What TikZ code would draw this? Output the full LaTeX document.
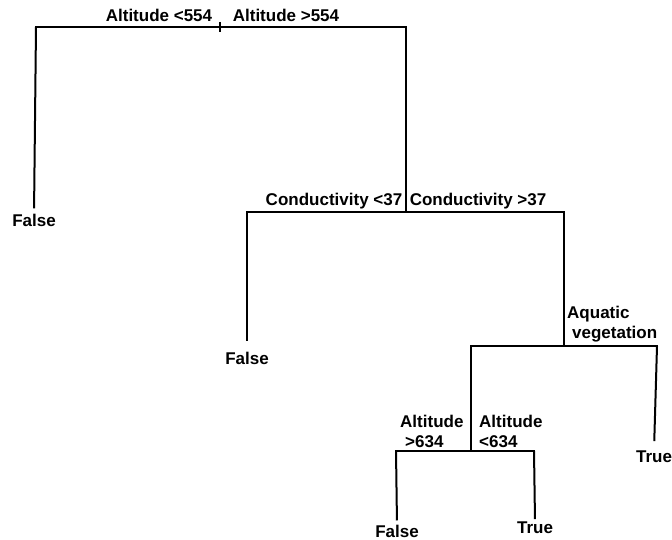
\documentclass[tikz,border=0pt]{standalone}
\usepackage{fontspec}
\setmainfont{Liberation Sans}
\begin{document}
\begin{tikzpicture}[x=1bp,y=-1bp,
  lbl/.style={font=\fontsize{17bp}{19bp}\selectfont\bfseries, inner sep=0pt, anchor=base},
  lblw/.style={lbl, anchor=base west},
  leaf/.style={lbl},
  edge/.style={draw, line width=2bp, line cap=rect}]
\useasboundingbox (0,0) rectangle (672,540);
% split coordinates
\coordinate (root) at (220,27);
\coordinate (rootT) at (220,22);
\coordinate (rootB) at (220,32);
\coordinate (rootL) at (36,27);
\coordinate (rootR) at (406,27);
\coordinate (c) at (406,212);
\coordinate (cL) at (247,212);
\coordinate (cR) at (564,212);
\coordinate (a) at (564,346);
\coordinate (aL) at (471,346);
\coordinate (aR) at (657,346);
\coordinate (b) at (471,451);
\coordinate (bL) at (396,451);
\coordinate (bR) at (534,451);
% labels
\node[lbl] (l1) at (159,22) {Altitude <554};
\node[lbl] (l2) at (286,22) {Altitude >554};
\node[lbl] (l3) at (334,206) {Conductivity <37};
\node[lbl] (l4) at (478,206) {Conductivity >37};
\node[lblw] (l5) at (567,318) {Aquatic};
\node[lblw] (l6) at (572,338) {vegetation};
\node[lblw] (l7) at (400,427) {Altitude};
\node[lblw] (l8) at (405,447) {>634};
\node[lblw] (l9) at (479,427) {Altitude};
\node[lblw] (l10) at (479,447) {<634};
% leaves
\node[leaf] (f1) at (34,227) {False};
\node[leaf] (f2) at (247,364) {False};
\node[leaf] (f3) at (397,537) {False};
\node[leaf] (t1) at (535,533) {True};
\node[leaf] (t2) at (654,462) {True};
% tree lines
\draw[edge] (rootL) -- (rootR);
\draw[edge, line cap=butt] (rootT) -- (rootB);
\draw[edge] (rootR) -- (c);
\draw[edge] (cL) -- (cR);
\draw[edge] (cR) -- (a);
\draw[edge] (aL) -- (aR);
\draw[edge] (aL) -- (b);
\draw[edge] (bL) -- (bR);
\draw[edge, line cap=butt, shorten >=6bp] (rootL) -- (f1.north);
\draw[edge, line cap=butt, shorten >=10bp] (cL) -- (f2.north);
\draw[edge, line cap=butt, shorten >=4bp] (bL) -- (f3.north);
\draw[edge, line cap=butt, shorten >=2bp] (bR) -- (t1.north);
\draw[edge, line cap=butt, shorten >=9bp] (aR) -- (t2.north);
\end{tikzpicture}
\end{document}
